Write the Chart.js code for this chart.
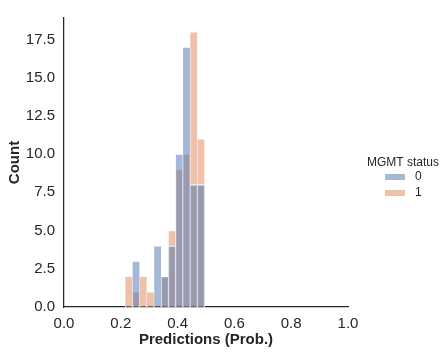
<!DOCTYPE html>
<html>
<head>
<meta charset="utf-8">
<script src="https://cdn.jsdelivr.net/npm/chart.js@4/dist/chart.umd.min.js"></script>
<style>
  html, body { margin: 0; padding: 0; background: #fff; }
  #wrap { position: relative; width: 448px; height: 356px; }
</style>
</head>
<body>
<div id="wrap"><canvas id="histChart" width="448" height="356"></canvas></div>
<script>
// histogram bins (left edges, width binWidth)
const binStart = 0.2155;
const binWidth = 0.0254;
const countsStatus0 = [0, 3, 0, 0, 4, 2, 4, 10, 17, 8, 8];
const countsStatus1 = [2, 1, 2, 1, 0, 2, 5, 9, 10, 18, 11];
const seriesLabels = ['0', '1'];
const xTicks = [0, 0.2, 0.4, 0.6, 0.8, 1.0];
const yTicks = [0, 2.5, 5, 7.5, 10, 12.5, 15, 17.5];

const textColor = '#262626';
const fontFamily = '"Liberation Sans", Arial, sans-serif';
const seriesColors = ['rgba(76, 114, 176, 0.5)', 'rgba(221, 132, 82, 0.5)'];

// bin centres -> {x, y}; empty bins left out
function toPoints(counts) {
  return counts.map((c, i) => ({ x: binStart + binWidth * (i + 0.5), y: c }))
    .filter(p => p.y > 0);
}

// seaborn-style legend to the right of the axes
const sideLegend = {
  id: 'sideLegend',
  afterDraw(chart) {
    const ctx = chart.ctx;
    ctx.save();
    ctx.fillStyle = textColor;
    ctx.font = '12px ' + fontFamily;
    ctx.textBaseline = 'middle';
    ctx.textAlign = 'center';
    ctx.fillText('MGMT status', 403, 163);
    ctx.textAlign = 'left';
    seriesLabels.forEach((lab, i) => {
      const y = 177 + i * 16;
      ctx.fillStyle = seriesColors[i];
      ctx.fillRect(385, y - 3, 20, 6);
      ctx.fillStyle = textColor;
      ctx.fillText(lab, 415, y);
    });
    ctx.restore();
  }
};

const ctx = document.getElementById('histChart').getContext('2d');
new Chart(ctx, {
  type: 'bar',
  data: {
    datasets: [
      {
        label: seriesLabels[0],
        data: toPoints(countsStatus0),
        backgroundColor: seriesColors[0],
        borderColor: '#ffffff',
        borderWidth: { top: 1, left: 0.5, right: 0.5, bottom: 0 },
        borderSkipped: false,
        grouped: false,
        barPercentage: 1,
        categoryPercentage: 1
      },
      {
        label: seriesLabels[1],
        data: toPoints(countsStatus1),
        backgroundColor: seriesColors[1],
        borderColor: '#ffffff',
        borderWidth: { top: 1, left: 0.5, right: 0.5, bottom: 0 },
        borderSkipped: false,
        grouped: false,
        barPercentage: 1,
        categoryPercentage: 1
      }
    ]
  },
  options: {
    responsive: false,
    animation: false,
    layout: { padding: { left: 0, right: 100, top: 8, bottom: 0 } },
    plugins: {
      legend: { display: false },
      tooltip: { enabled: false }
    },
    scales: {
      x: {
        type: 'linear',
        min: 0,
        max: 1,
        offset: false,
        grid: { display: false, drawTicks: false },
        border: { display: true, color: textColor, width: 1.25 },
        afterBuildTicks: (scale) => { scale.ticks = xTicks.map(v => ({ value: v })); },
        afterFit: (scale) => { scale.height = 49; },
        ticks: {
          color: textColor,
          padding: 8,
          maxRotation: 0,
          font: { family: fontFamily, size: 15 },
          callback: (v) => Number(v).toFixed(1)
        },
        title: {
          display: true,
          text: 'Predictions (Prob.)',
          color: textColor,
          font: { family: fontFamily, size: 15, weight: 'bold' },
          padding: { top: 0, bottom: 7 }
        }
      },
      y: {
        min: 0,
        max: 18.9,
        grid: { display: false, drawTicks: false },
        border: { display: true, color: textColor, width: 1.25 },
        afterBuildTicks: (scale) => { scale.ticks = yTicks.map(v => ({ value: v })); },
        afterFit: (scale) => { scale.width = 64; },
        ticks: {
          color: textColor,
          padding: 9,
          font: { family: fontFamily, size: 15 },
          callback: (v) => Number(v).toFixed(1)
        },
        title: {
          display: true,
          text: 'Count',
          color: textColor,
          font: { family: fontFamily, size: 15, weight: 'bold' },
          padding: { top: 6, bottom: 0 }
        }
      }
    }
  },
  plugins: [sideLegend]
});
</script>
</body>
</html>
